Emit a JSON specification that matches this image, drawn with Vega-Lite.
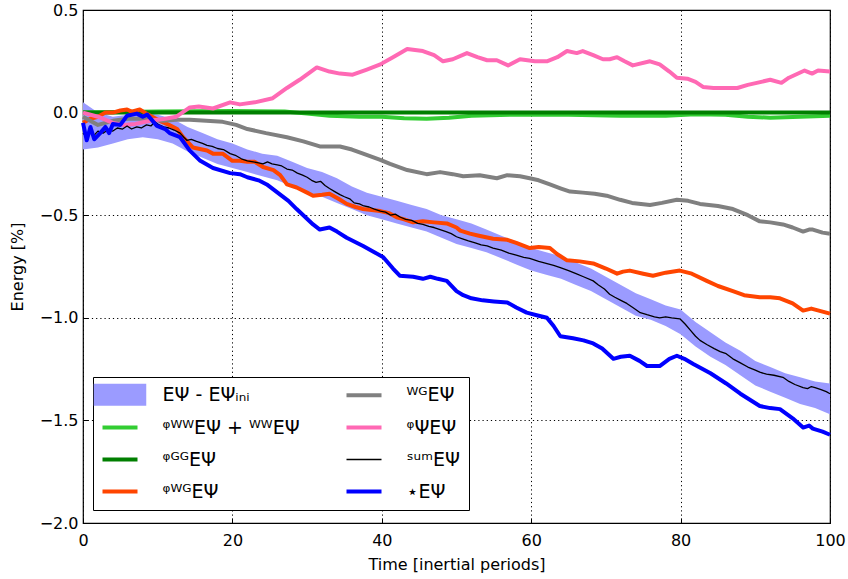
{
  "$schema": "https://vega.github.io/schema/vega-lite/v6.json",
  "width": 747,
  "height": 513,
  "autosize": {"type": "none"},
  "padding": {"left": 83, "top": 10, "right": 18, "bottom": 56},
  "background": "white",
  "config": {
    "font": "DejaVu Sans",
    "view": {"stroke": "black", "strokeWidth": 1.2},
    "axis": {
      "domain": false,
      "grid": true,
      "gridColor": "black",
      "gridDash": [1.2, 3],
      "gridWidth": 1,
      "gridOpacity": 1,
      "tickColor": "black",
      "tickSize": -5,
      "labelFlush": false,
      "labelColor": "black",
      "labelFont": "DejaVu Sans",
      "labelFontSize": 16,
      "titleFont": "DejaVu Sans",
      "titleFontSize": 16,
      "titleFontWeight": "normal",
      "titleColor": "black",
      "zindex": 1
    },
    "legend": {
      "orient": "none",
      "legendX": 10,
      "legendY": 367,
      "direction": "vertical",
      "columns": 2,
      "strokeColor": "black",
      "fillColor": "white",
      "padding": 8,
      "symbolType": "stroke",
      "symbolSize": 900,
      "symbolOffset": 9.5,
      "symbolStrokeWidth": 4,
      "labelFontSize": 19,
      "labelFont": "DejaVu Sans",
      "labelColor": "black",
      "labelOffset": 33,
      "labelLimit": 400,
      "rowPadding": 12,
      "columnPadding": 38
    }
  },
  "datasets": {
    "band": [
      {"x":0,"lo":-0.18,"hi":0.05,"s":"band"},
      {"x":2,"lo":-0.17,"hi":0.0,"s":"band"},
      {"x":4,"lo":-0.15,"hi":-0.02,"s":"band"},
      {"x":6,"lo":-0.13,"hi":-0.01,"s":"band"},
      {"x":8,"lo":-0.12,"hi":0.0,"s":"band"},
      {"x":10,"lo":-0.13,"hi":-0.01,"s":"band"},
      {"x":12,"lo":-0.15,"hi":-0.03,"s":"band"},
      {"x":14,"lo":-0.19,"hi":-0.07,"s":"band"},
      {"x":16,"lo":-0.22,"hi":-0.1,"s":"band"},
      {"x":18,"lo":-0.25,"hi":-0.13,"s":"band"},
      {"x":20,"lo":-0.27,"hi":-0.15,"s":"band"},
      {"x":22,"lo":-0.29,"hi":-0.18,"s":"band"},
      {"x":24,"lo":-0.31,"hi":-0.2,"s":"band"},
      {"x":26,"lo":-0.33,"hi":-0.21,"s":"band"},
      {"x":28,"lo":-0.36,"hi":-0.24,"s":"band"},
      {"x":30,"lo":-0.39,"hi":-0.27,"s":"band"},
      {"x":32,"lo":-0.41,"hi":-0.29,"s":"band"},
      {"x":34,"lo":-0.44,"hi":-0.32,"s":"band"},
      {"x":36,"lo":-0.47,"hi":-0.36,"s":"band"},
      {"x":38,"lo":-0.5,"hi":-0.39,"s":"band"},
      {"x":40,"lo":-0.52,"hi":-0.41,"s":"band"},
      {"x":42,"lo":-0.54,"hi":-0.43,"s":"band"},
      {"x":44,"lo":-0.56,"hi":-0.45,"s":"band"},
      {"x":46,"lo":-0.58,"hi":-0.47,"s":"band"},
      {"x":48,"lo":-0.61,"hi":-0.5,"s":"band"},
      {"x":50,"lo":-0.64,"hi":-0.52,"s":"band"},
      {"x":52,"lo":-0.66,"hi":-0.54,"s":"band"},
      {"x":54,"lo":-0.68,"hi":-0.57,"s":"band"},
      {"x":56,"lo":-0.71,"hi":-0.6,"s":"band"},
      {"x":58,"lo":-0.74,"hi":-0.63,"s":"band"},
      {"x":60,"lo":-0.77,"hi":-0.66,"s":"band"},
      {"x":62,"lo":-0.79,"hi":-0.68,"s":"band"},
      {"x":64,"lo":-0.81,"hi":-0.7,"s":"band"},
      {"x":66,"lo":-0.84,"hi":-0.73,"s":"band"},
      {"x":68,"lo":-0.87,"hi":-0.76,"s":"band"},
      {"x":70,"lo":-0.91,"hi":-0.8,"s":"band"},
      {"x":72,"lo":-0.95,"hi":-0.84,"s":"band"},
      {"x":74,"lo":-0.99,"hi":-0.88,"s":"band"},
      {"x":76,"lo":-1.01,"hi":-0.91,"s":"band"},
      {"x":78,"lo":-1.04,"hi":-0.94,"s":"band"},
      {"x":80,"lo":-1.08,"hi":-0.96,"s":"band"},
      {"x":82,"lo":-1.14,"hi":-1.02,"s":"band"},
      {"x":84,"lo":-1.19,"hi":-1.07,"s":"band"},
      {"x":86,"lo":-1.23,"hi":-1.12,"s":"band"},
      {"x":88,"lo":-1.28,"hi":-1.16,"s":"band"},
      {"x":90,"lo":-1.33,"hi":-1.21,"s":"band"},
      {"x":92,"lo":-1.36,"hi":-1.24,"s":"band"},
      {"x":94,"lo":-1.39,"hi":-1.27,"s":"band"},
      {"x":96,"lo":-1.42,"hi":-1.29,"s":"band"},
      {"x":98,"lo":-1.44,"hi":-1.31,"s":"band"},
      {"x":100,"lo":-1.47,"hi":-1.32,"s":"band"}
    ],
    "lines": [
      {"x":0,"s":"ww","y":0.0},{"x":10,"s":"ww","y":0.005},{"x":20,"s":"ww","y":0.008},{"x":27,"s":"ww","y":0.005},{"x":30,"s":"ww","y":-0.005},{"x":33,"s":"ww","y":-0.015},{"x":37,"s":"ww","y":-0.02},{"x":40,"s":"ww","y":-0.02},{"x":43,"s":"ww","y":-0.027},{"x":46,"s":"ww","y":-0.03},{"x":49,"s":"ww","y":-0.025},{"x":52,"s":"ww","y":-0.015},{"x":58,"s":"ww","y":-0.01},{"x":65,"s":"ww","y":-0.01},{"x":72,"s":"ww","y":-0.015},{"x":78,"s":"ww","y":-0.015},{"x":82,"s":"ww","y":-0.008},{"x":86,"s":"ww","y":-0.01},{"x":89,"s":"ww","y":-0.02},{"x":92,"s":"ww","y":-0.025},{"x":96,"s":"ww","y":-0.02},{"x":100,"s":"ww","y":-0.015},

      {"x":0,"s":"gg","y":0.0},{"x":25,"s":"gg","y":0.0},{"x":50,"s":"gg","y":0.0},{"x":75,"s":"gg","y":0.0},{"x":100,"s":"gg","y":0.0},

      {"x":0,"s":"wg","y":-0.05},{"x":1,"s":"wg","y":-0.03},{"x":2,"s":"wg","y":-0.02},{"x":3,"s":"wg","y":0.0},{"x":4,"s":"wg","y":0.0},{"x":5,"s":"wg","y":0.01},{"x":5.9,"s":"wg","y":0.015},{"x":6.5,"s":"wg","y":0.005},{"x":7.6,"s":"wg","y":0.015},{"x":8.3,"s":"wg","y":0.0},{"x":9,"s":"wg","y":-0.015},{"x":10.3,"s":"wg","y":-0.04},{"x":11.5,"s":"wg","y":-0.06},{"x":12.6,"s":"wg","y":-0.08},{"x":13.4,"s":"wg","y":-0.12},{"x":14.7,"s":"wg","y":-0.17},{"x":16.6,"s":"wg","y":-0.185},{"x":17.4,"s":"wg","y":-0.2},{"x":18.7,"s":"wg","y":-0.2},{"x":20,"s":"wg","y":-0.235},{"x":21,"s":"wg","y":-0.235},{"x":22,"s":"wg","y":-0.24},{"x":23,"s":"wg","y":-0.24},{"x":24.1,"s":"wg","y":-0.265},{"x":25.5,"s":"wg","y":-0.28},{"x":26.4,"s":"wg","y":-0.305},{"x":27.3,"s":"wg","y":-0.35},{"x":28.6,"s":"wg","y":-0.365},{"x":30,"s":"wg","y":-0.39},{"x":30.8,"s":"wg","y":-0.405},{"x":32,"s":"wg","y":-0.4},{"x":33,"s":"wg","y":-0.395},{"x":34.2,"s":"wg","y":-0.42},{"x":35.3,"s":"wg","y":-0.445},{"x":36.5,"s":"wg","y":-0.46},{"x":37.5,"s":"wg","y":-0.47},{"x":39.8,"s":"wg","y":-0.48},{"x":41,"s":"wg","y":-0.49},{"x":42,"s":"wg","y":-0.51},{"x":43,"s":"wg","y":-0.52},{"x":44.2,"s":"wg","y":-0.535},{"x":45.5,"s":"wg","y":-0.53},{"x":47,"s":"wg","y":-0.535},{"x":48.7,"s":"wg","y":-0.54},{"x":50,"s":"wg","y":-0.56},{"x":50.5,"s":"wg","y":-0.575},{"x":51.8,"s":"wg","y":-0.59},{"x":53,"s":"wg","y":-0.6},{"x":54.9,"s":"wg","y":-0.615},{"x":56.8,"s":"wg","y":-0.62},{"x":58,"s":"wg","y":-0.635},{"x":59.8,"s":"wg","y":-0.66},{"x":61,"s":"wg","y":-0.655},{"x":62.5,"s":"wg","y":-0.66},{"x":63.5,"s":"wg","y":-0.69},{"x":64.8,"s":"wg","y":-0.72},{"x":66.5,"s":"wg","y":-0.725},{"x":68.3,"s":"wg","y":-0.735},{"x":70,"s":"wg","y":-0.76},{"x":71.5,"s":"wg","y":-0.785},{"x":72.3,"s":"wg","y":-0.775},{"x":73.2,"s":"wg","y":-0.77},{"x":75,"s":"wg","y":-0.785},{"x":76.3,"s":"wg","y":-0.795},{"x":78,"s":"wg","y":-0.78},{"x":79.9,"s":"wg","y":-0.77},{"x":81.5,"s":"wg","y":-0.785},{"x":83.5,"s":"wg","y":-0.82},{"x":85,"s":"wg","y":-0.845},{"x":87,"s":"wg","y":-0.87},{"x":88.5,"s":"wg","y":-0.89},{"x":90.6,"s":"wg","y":-0.9},{"x":92,"s":"wg","y":-0.9},{"x":93.3,"s":"wg","y":-0.905},{"x":95,"s":"wg","y":-0.93},{"x":96.4,"s":"wg","y":-0.965},{"x":97.5,"s":"wg","y":-0.955},{"x":98.5,"s":"wg","y":-0.965},{"x":100,"s":"wg","y":-0.98},

      {"x":0,"s":"WG","y":-0.02},{"x":2,"s":"WG","y":-0.06},{"x":4,"s":"WG","y":-0.04},{"x":6,"s":"WG","y":-0.03},{"x":8,"s":"WG","y":-0.03},{"x":10.7,"s":"WG","y":-0.04},{"x":12.5,"s":"WG","y":-0.035},{"x":14.3,"s":"WG","y":-0.035},{"x":16.5,"s":"WG","y":-0.04},{"x":18.7,"s":"WG","y":-0.045},{"x":20.5,"s":"WG","y":-0.06},{"x":22,"s":"WG","y":-0.08},{"x":24.5,"s":"WG","y":-0.1},{"x":27.3,"s":"WG","y":-0.12},{"x":29.5,"s":"WG","y":-0.14},{"x":31.7,"s":"WG","y":-0.165},{"x":34.4,"s":"WG","y":-0.165},{"x":36,"s":"WG","y":-0.18},{"x":37.5,"s":"WG","y":-0.2},{"x":39.8,"s":"WG","y":-0.23},{"x":41.1,"s":"WG","y":-0.25},{"x":43.4,"s":"WG","y":-0.28},{"x":46,"s":"WG","y":-0.3},{"x":47.8,"s":"WG","y":-0.29},{"x":49.5,"s":"WG","y":-0.3},{"x":50.9,"s":"WG","y":-0.31},{"x":53.1,"s":"WG","y":-0.305},{"x":55.4,"s":"WG","y":-0.32},{"x":56.8,"s":"WG","y":-0.305},{"x":58.5,"s":"WG","y":-0.31},{"x":59.8,"s":"WG","y":-0.32},{"x":61,"s":"WG","y":-0.33},{"x":62.5,"s":"WG","y":-0.35},{"x":64,"s":"WG","y":-0.37},{"x":65.2,"s":"WG","y":-0.385},{"x":66.9,"s":"WG","y":-0.39},{"x":68.5,"s":"WG","y":-0.395},{"x":70.1,"s":"WG","y":-0.405},{"x":71.9,"s":"WG","y":-0.425},{"x":73.5,"s":"WG","y":-0.44},{"x":75.9,"s":"WG","y":-0.45},{"x":77.5,"s":"WG","y":-0.44},{"x":79.5,"s":"WG","y":-0.425},{"x":81,"s":"WG","y":-0.43},{"x":82.6,"s":"WG","y":-0.445},{"x":85,"s":"WG","y":-0.455},{"x":87,"s":"WG","y":-0.47},{"x":89,"s":"WG","y":-0.5},{"x":90.6,"s":"WG","y":-0.53},{"x":92,"s":"WG","y":-0.535},{"x":93.7,"s":"WG","y":-0.545},{"x":95,"s":"WG","y":-0.56},{"x":96.4,"s":"WG","y":-0.58},{"x":97.2,"s":"WG","y":-0.57},{"x":97.7,"s":"WG","y":-0.57},{"x":99,"s":"WG","y":-0.585},{"x":100,"s":"WG","y":-0.59},

      {"x":0,"s":"psi","y":0.0},{"x":2,"s":"psi","y":-0.02},{"x":4,"s":"psi","y":-0.05},{"x":5.5,"s":"psi","y":-0.06},{"x":7,"s":"psi","y":-0.055},{"x":9,"s":"psi","y":-0.04},{"x":11,"s":"psi","y":-0.03},{"x":12.5,"s":"psi","y":-0.02},{"x":14.3,"s":"psi","y":0.025},{"x":15.5,"s":"psi","y":0.03},{"x":17.4,"s":"psi","y":0.02},{"x":19.7,"s":"psi","y":0.05},{"x":21,"s":"psi","y":0.04},{"x":23,"s":"psi","y":0.05},{"x":25.4,"s":"psi","y":0.07},{"x":27.3,"s":"psi","y":0.12},{"x":29,"s":"psi","y":0.16},{"x":31.3,"s":"psi","y":0.22},{"x":33,"s":"psi","y":0.2},{"x":34.4,"s":"psi","y":0.19},{"x":36.1,"s":"psi","y":0.185},{"x":38,"s":"psi","y":0.21},{"x":39.8,"s":"psi","y":0.235},{"x":41.5,"s":"psi","y":0.27},{"x":43.4,"s":"psi","y":0.31},{"x":45.5,"s":"psi","y":0.3},{"x":47,"s":"psi","y":0.28},{"x":48.2,"s":"psi","y":0.25},{"x":49.5,"s":"psi","y":0.26},{"x":51.4,"s":"psi","y":0.29},{"x":52.8,"s":"psi","y":0.27},{"x":54.1,"s":"psi","y":0.255},{"x":55.4,"s":"psi","y":0.255},{"x":56.9,"s":"psi","y":0.23},{"x":58.5,"s":"psi","y":0.26},{"x":60.5,"s":"psi","y":0.25},{"x":62.1,"s":"psi","y":0.25},{"x":63.5,"s":"psi","y":0.27},{"x":64.8,"s":"psi","y":0.3},{"x":66.1,"s":"psi","y":0.29},{"x":66.9,"s":"psi","y":0.3},{"x":68.3,"s":"psi","y":0.28},{"x":69.6,"s":"psi","y":0.26},{"x":70.5,"s":"psi","y":0.26},{"x":71.5,"s":"psi","y":0.27},{"x":72.5,"s":"psi","y":0.25},{"x":73.6,"s":"psi","y":0.23},{"x":75.9,"s":"psi","y":0.25},{"x":77.2,"s":"psi","y":0.235},{"x":78.5,"s":"psi","y":0.2},{"x":79.5,"s":"psi","y":0.17},{"x":80.9,"s":"psi","y":0.165},{"x":82,"s":"psi","y":0.15},{"x":83,"s":"psi","y":0.125},{"x":84.4,"s":"psi","y":0.12},{"x":86,"s":"psi","y":0.12},{"x":87.6,"s":"psi","y":0.12},{"x":89,"s":"psi","y":0.135},{"x":90.2,"s":"psi","y":0.145},{"x":92,"s":"psi","y":0.16},{"x":93.5,"s":"psi","y":0.145},{"x":94.5,"s":"psi","y":0.17},{"x":96.6,"s":"psi","y":0.205},{"x":97.6,"s":"psi","y":0.19},{"x":98.4,"s":"psi","y":0.205},{"x":100,"s":"psi","y":0.2},

      {"x":0,"s":"sum","y":-0.1},{"x":0.5,"s":"sum","y":-0.12},{"x":1,"s":"sum","y":-0.09},{"x":1.5,"s":"sum","y":-0.11},{"x":2,"s":"sum","y":-0.09},{"x":2.7,"s":"sum","y":-0.1},{"x":3.3,"s":"sum","y":-0.085},{"x":4,"s":"sum","y":-0.09},{"x":4.6,"s":"sum","y":-0.075},{"x":5.3,"s":"sum","y":-0.08},{"x":5.9,"s":"sum","y":-0.065},{"x":6.5,"s":"sum","y":-0.08},{"x":7.2,"s":"sum","y":-0.07},{"x":7.8,"s":"sum","y":-0.075},{"x":8.5,"s":"sum","y":-0.06},{"x":9.1,"s":"sum","y":-0.065},{"x":9.6,"s":"sum","y":-0.045},{"x":10.2,"s":"sum","y":-0.06},{"x":10.8,"s":"sum","y":-0.07},{"x":11.5,"s":"sum","y":-0.075},{"x":12.2,"s":"sum","y":-0.085},{"x":13,"s":"sum","y":-0.1},{"x":13.5,"s":"sum","y":-0.12},{"x":13.9,"s":"sum","y":-0.135},{"x":14.5,"s":"sum","y":-0.13},{"x":15.2,"s":"sum","y":-0.14},{"x":16,"s":"sum","y":-0.15},{"x":16.6,"s":"sum","y":-0.16},{"x":17.3,"s":"sum","y":-0.165},{"x":18,"s":"sum","y":-0.175},{"x":18.8,"s":"sum","y":-0.18},{"x":19.7,"s":"sum","y":-0.2},{"x":20.5,"s":"sum","y":-0.21},{"x":21.2,"s":"sum","y":-0.225},{"x":22,"s":"sum","y":-0.235},{"x":22.8,"s":"sum","y":-0.24},{"x":23.5,"s":"sum","y":-0.245},{"x":24.1,"s":"sum","y":-0.25},{"x":24.7,"s":"sum","y":-0.24},{"x":25.3,"s":"sum","y":-0.25},{"x":26,"s":"sum","y":-0.255},{"x":26.6,"s":"sum","y":-0.26},{"x":27.3,"s":"sum","y":-0.275},{"x":28,"s":"sum","y":-0.28},{"x":28.7,"s":"sum","y":-0.295},{"x":29.4,"s":"sum","y":-0.305},{"x":30,"s":"sum","y":-0.315},{"x":30.6,"s":"sum","y":-0.33},{"x":31.2,"s":"sum","y":-0.34},{"x":31.8,"s":"sum","y":-0.335},{"x":32.4,"s":"sum","y":-0.355},{"x":33,"s":"sum","y":-0.37},{"x":33.7,"s":"sum","y":-0.385},{"x":34.4,"s":"sum","y":-0.4},{"x":35,"s":"sum","y":-0.41},{"x":35.7,"s":"sum","y":-0.42},{"x":36.3,"s":"sum","y":-0.44},{"x":37,"s":"sum","y":-0.445},{"x":37.6,"s":"sum","y":-0.455},{"x":38.3,"s":"sum","y":-0.46},{"x":39,"s":"sum","y":-0.47},{"x":39.8,"s":"sum","y":-0.48},{"x":40.5,"s":"sum","y":-0.485},{"x":41.2,"s":"sum","y":-0.5},{"x":41.8,"s":"sum","y":-0.495},{"x":42.5,"s":"sum","y":-0.51},{"x":43.2,"s":"sum","y":-0.52},{"x":44,"s":"sum","y":-0.525},{"x":44.8,"s":"sum","y":-0.54},{"x":45.5,"s":"sum","y":-0.545},{"x":46.3,"s":"sum","y":-0.555},{"x":47,"s":"sum","y":-0.56},{"x":47.8,"s":"sum","y":-0.57},{"x":48.6,"s":"sum","y":-0.58},{"x":49.3,"s":"sum","y":-0.59},{"x":50,"s":"sum","y":-0.605},{"x":50.8,"s":"sum","y":-0.615},{"x":51.6,"s":"sum","y":-0.625},{"x":52.5,"s":"sum","y":-0.635},{"x":53.3,"s":"sum","y":-0.645},{"x":54.1,"s":"sum","y":-0.65},{"x":54.9,"s":"sum","y":-0.66},{"x":56,"s":"sum","y":-0.67},{"x":57,"s":"sum","y":-0.685},{"x":58,"s":"sum","y":-0.695},{"x":59,"s":"sum","y":-0.705},{"x":59.8,"s":"sum","y":-0.71},{"x":61,"s":"sum","y":-0.725},{"x":62,"s":"sum","y":-0.735},{"x":63,"s":"sum","y":-0.745},{"x":63.9,"s":"sum","y":-0.755},{"x":65,"s":"sum","y":-0.77},{"x":66,"s":"sum","y":-0.785},{"x":67,"s":"sum","y":-0.8},{"x":68.3,"s":"sum","y":-0.82},{"x":69,"s":"sum","y":-0.84},{"x":69.8,"s":"sum","y":-0.86},{"x":70.5,"s":"sum","y":-0.885},{"x":71.2,"s":"sum","y":-0.9},{"x":72,"s":"sum","y":-0.915},{"x":72.8,"s":"sum","y":-0.93},{"x":73.6,"s":"sum","y":-0.95},{"x":74.6,"s":"sum","y":-0.975},{"x":75.5,"s":"sum","y":-0.985},{"x":76.5,"s":"sum","y":-0.995},{"x":77.2,"s":"sum","y":-1.0},{"x":78,"s":"sum","y":-0.995},{"x":78.8,"s":"sum","y":-1.0},{"x":79.9,"s":"sum","y":-1.005},{"x":80.6,"s":"sum","y":-1.03},{"x":81.3,"s":"sum","y":-1.06},{"x":82,"s":"sum","y":-1.09},{"x":82.6,"s":"sum","y":-1.11},{"x":83.5,"s":"sum","y":-1.13},{"x":84.5,"s":"sum","y":-1.15},{"x":85.3,"s":"sum","y":-1.165},{"x":86.1,"s":"sum","y":-1.175},{"x":87,"s":"sum","y":-1.2},{"x":88,"s":"sum","y":-1.22},{"x":89,"s":"sum","y":-1.24},{"x":90,"s":"sum","y":-1.255},{"x":90.6,"s":"sum","y":-1.265},{"x":91.5,"s":"sum","y":-1.275},{"x":92.5,"s":"sum","y":-1.28},{"x":93.7,"s":"sum","y":-1.29},{"x":94.5,"s":"sum","y":-1.31},{"x":95.3,"s":"sum","y":-1.325},{"x":96.4,"s":"sum","y":-1.34},{"x":97,"s":"sum","y":-1.345},{"x":97.5,"s":"sum","y":-1.335},{"x":98,"s":"sum","y":-1.34},{"x":98.8,"s":"sum","y":-1.35},{"x":99.5,"s":"sum","y":-1.36},{"x":100,"s":"sum","y":-1.37},

      {"x":0,"s":"star","y":-0.05},{"x":0.5,"s":"star","y":-0.135},{"x":1,"s":"star","y":-0.07},{"x":1.5,"s":"star","y":-0.13},{"x":2.3,"s":"star","y":-0.1},{"x":3,"s":"star","y":-0.07},{"x":3.5,"s":"star","y":-0.1},{"x":4,"s":"star","y":-0.055},{"x":5,"s":"star","y":-0.06},{"x":5.9,"s":"star","y":-0.015},{"x":7.2,"s":"star","y":-0.005},{"x":8,"s":"star","y":-0.02},{"x":8.6,"s":"star","y":-0.01},{"x":9.9,"s":"star","y":-0.065},{"x":11,"s":"star","y":-0.08},{"x":11.6,"s":"star","y":-0.1},{"x":13,"s":"star","y":-0.12},{"x":14.3,"s":"star","y":-0.185},{"x":15.7,"s":"star","y":-0.235},{"x":17.4,"s":"star","y":-0.27},{"x":19.7,"s":"star","y":-0.295},{"x":21,"s":"star","y":-0.3},{"x":22,"s":"star","y":-0.315},{"x":23.5,"s":"star","y":-0.33},{"x":24.6,"s":"star","y":-0.35},{"x":26.4,"s":"star","y":-0.4},{"x":27.5,"s":"star","y":-0.43},{"x":28.6,"s":"star","y":-0.47},{"x":30.8,"s":"star","y":-0.545},{"x":31.7,"s":"star","y":-0.57},{"x":33,"s":"star","y":-0.56},{"x":34,"s":"star","y":-0.58},{"x":35.3,"s":"star","y":-0.61},{"x":37.5,"s":"star","y":-0.65},{"x":39,"s":"star","y":-0.68},{"x":40.2,"s":"star","y":-0.705},{"x":41.5,"s":"star","y":-0.76},{"x":42.4,"s":"star","y":-0.795},{"x":44.2,"s":"star","y":-0.8},{"x":45.5,"s":"star","y":-0.81},{"x":46.5,"s":"star","y":-0.8},{"x":47.5,"s":"star","y":-0.81},{"x":48.7,"s":"star","y":-0.82},{"x":50,"s":"star","y":-0.87},{"x":50.9,"s":"star","y":-0.89},{"x":52,"s":"star","y":-0.905},{"x":53.5,"s":"star","y":-0.915},{"x":55,"s":"star","y":-0.92},{"x":56.8,"s":"star","y":-0.925},{"x":58,"s":"star","y":-0.95},{"x":59.4,"s":"star","y":-0.975},{"x":61,"s":"star","y":-0.99},{"x":62.1,"s":"star","y":-1.0},{"x":63,"s":"star","y":-1.04},{"x":63.9,"s":"star","y":-1.09},{"x":65.6,"s":"star","y":-1.1},{"x":67,"s":"star","y":-1.11},{"x":68.3,"s":"star","y":-1.125},{"x":69.5,"s":"star","y":-1.15},{"x":71,"s":"star","y":-1.2},{"x":72,"s":"star","y":-1.19},{"x":73.2,"s":"star","y":-1.185},{"x":74.5,"s":"star","y":-1.21},{"x":75.5,"s":"star","y":-1.235},{"x":77.2,"s":"star","y":-1.235},{"x":78.5,"s":"star","y":-1.2},{"x":79.5,"s":"star","y":-1.185},{"x":80.5,"s":"star","y":-1.2},{"x":81.7,"s":"star","y":-1.225},{"x":84,"s":"star","y":-1.27},{"x":86.1,"s":"star","y":-1.32},{"x":88,"s":"star","y":-1.37},{"x":90.6,"s":"star","y":-1.43},{"x":92,"s":"star","y":-1.44},{"x":93.3,"s":"star","y":-1.445},{"x":95,"s":"star","y":-1.49},{"x":96.4,"s":"star","y":-1.535},{"x":97.2,"s":"star","y":-1.525},{"x":97.7,"s":"star","y":-1.54},{"x":99,"s":"star","y":-1.555},{"x":100,"s":"star","y":-1.57}
    ]
  },
  "encoding": {
    "x": {
      "field": "x",
      "type": "quantitative",
      "scale": {"domain": [0, 100], "nice": false, "zero": false},
      "axis": {"values": [0, 20, 40, 60, 80, 100], "format": "d", "title": "Time [inertial periods]", "labelPadding": 14, "titlePadding": 8}
    }
  },
  "layer": [
    {
      "data": {"name": "band"},
      "mark": {"type": "area", "opacity": 1},
      "encoding": {
        "y": {
          "field": "lo",
          "type": "quantitative",
          "scale": {"domain": [-2, 0.5], "nice": false, "zero": false},
          "axis": {"values": [-2, -1.5, -1, -0.5, 0, 0.5], "format": ".1f", "title": "Energy [%]", "labelPadding": 10, "titlePadding": 14}
        },
        "y2": {"field": "hi"},
        "color": {
          "field": "s",
          "type": "nominal",
          "scale": {
            "domain": ["band", "ww", "gg", "wg", "WG", "psi", "sum", "star"],
            "range": ["#9b9bff", "#32cd32", "#007f00", "#ff4500", "#808080", "#ff69b4", "#000000", "#0000ff"]
          },
          "legend": {
            "title": null,
            "labelExpr": "datum.label === 'band' ? 'EΨ - EΨᵢₙᵢ' : datum.label === 'WG' ? 'ᵂᴳEΨ' : datum.label === 'ww' ? 'ᵠᵂᵂEΨ + ᵂᵂEΨ' : datum.label === 'psi' ? 'ᵠΨEΨ' : datum.label === 'gg' ? 'ᵠᴳᴳEΨ' : datum.label === 'sum' ? 'ˢᵘᵐEΨ' : datum.label === 'wg' ? 'ᵠᵂᴳEΨ' : '⋆EΨ'",
            "encode": {
              "symbols": {
                "update": {
                  "shape": {"signal": "datum.value === 'band' ? 'M-1.5,-0.63H1.5V0.63H-1.5Z' : 'stroke'"},
                  "size": {"value": 1225},
                  "strokeWidth": {"signal": "datum.value === 'band' ? 0 : datum.value === 'sum' ? 1.5 : 4"},
                  "stroke": {"signal": "scale('color', datum.value)"},
                  "fill": {"signal": "datum.value === 'band' ? scale('color', datum.value) : 'transparent'"},
                  "opacity": {"value": 1}
                }
              }
            }
          }
        }
      }
    },
    {
      "data": {"name": "lines"},
      "mark": {"type": "line", "strokeCap": "butt", "strokeJoin": "round"},
      "encoding": {
        "y": {"field": "y", "type": "quantitative"},
        "color": {
          "field": "s",
          "type": "nominal",
          "legend": {
            "title": null,
            "labelExpr": "datum.label === 'band' ? 'EΨ - EΨᵢₙᵢ' : datum.label === 'WG' ? 'ᵂᴳEΨ' : datum.label === 'ww' ? 'ᵠᵂᵂEΨ + ᵂᵂEΨ' : datum.label === 'psi' ? 'ᵠΨEΨ' : datum.label === 'gg' ? 'ᵠᴳᴳEΨ' : datum.label === 'sum' ? 'ˢᵘᵐEΨ' : datum.label === 'wg' ? 'ᵠᵂᴳEΨ' : '⋆EΨ'",
            "encode": {
              "symbols": {
                "update": {
                  "shape": {"signal": "datum.value === 'band' ? 'M-1.5,-0.63H1.5V0.63H-1.5Z' : 'stroke'"},
                  "size": {"value": 1225},
                  "strokeWidth": {"signal": "datum.value === 'band' ? 0 : datum.value === 'sum' ? 1.5 : 4"},
                  "stroke": {"signal": "scale('color', datum.value)"},
                  "fill": {"signal": "datum.value === 'band' ? scale('color', datum.value) : 'transparent'"},
                  "opacity": {"value": 1}
                }
              }
            }
          }
        },
        "strokeWidth": {"condition": {"test": "datum.s === 'sum'", "value": 1.3}, "value": 4}
      }
    }
  ]
}
